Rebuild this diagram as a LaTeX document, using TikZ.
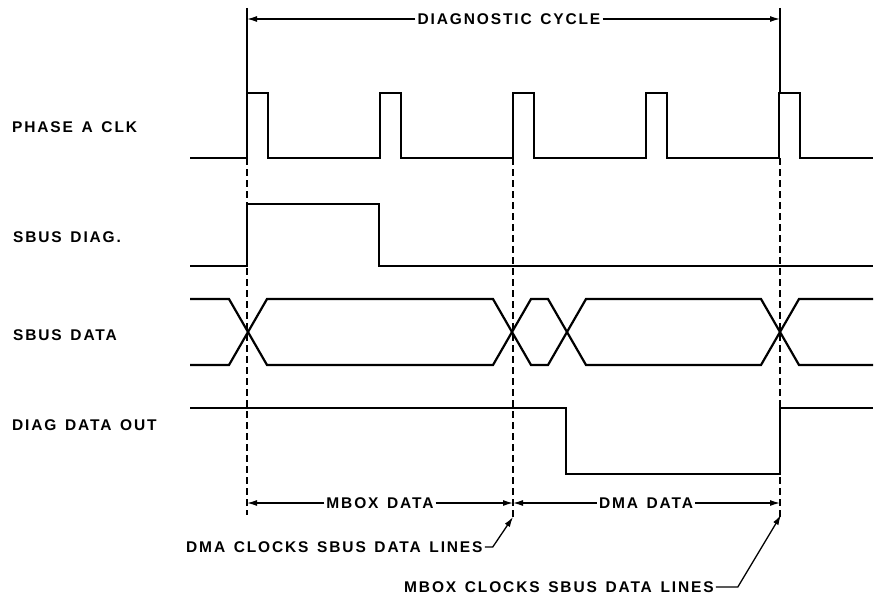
\documentclass[tikz,border=0pt]{standalone}
\usepackage{fontspec}
\setmainfont{Liberation Sans}[LetterSpace=12, WordSpace=1.4]
\usetikzlibrary{arrows.meta,positioning}

\begin{document}
\begin{tikzpicture}[x=1pt, y=-1pt, >={Latex[length=10pt,width=6pt]}]

  % ===== Styles =====
  \tikzset{
    sig/.style={line width=2.2pt, line join=miter},
    guide/.style={line width=1.1pt, dash pattern=on 7pt off 4pt},
    dim/.style={line width=1.3pt},
    lbl/.style={font=\fontsize{15.5}{18}\selectfont\bfseries, inner xsep=2pt, inner ysep=0pt, anchor=west},
    dimlbl/.style={font=\fontsize{15.5}{18}\selectfont\bfseries, inner xsep=2pt, inner ysep=0pt}
  }

  \useasboundingbox (0,0) rectangle (874,599);

  % ===== Signal names =====
  \node[lbl] (clk)  at (10,127) {PHASE A CLK};
  \node[lbl] (diag) at (11,237) {SBUS DIAG.};
  \node[lbl] (data) at (11,335) {SBUS DATA};
  \node[lbl] (out)  at (10,425) {DIAG DATA OUT};

  % ===== Cycle marks =====
  \coordinate (t1) at (247,0);
  \coordinate (t2) at (513,0);
  \coordinate (t3) at (780,0);

  % ===== Waveforms =====
  \draw[sig] (190,158) \foreach \x in {247,380,513,646,779} {
      -- (\x,158) -- (\x,93) -- (\x+21,93) -- (\x+21,158) } -- (873,158);
  \draw[sig] (190,266) -- (247,266) -- (247,204) -- (379,204) -- (379,266) -- (873,266);
  \draw[sig] (190,299) -- (229,299) -- (267,365) -- (493,365) -- (531,299) -- (548,299)
    -- (586,365) -- (761,365) -- (799,299) -- (873,299);
  \draw[sig] (190,365) -- (229,365) -- (267,299) -- (493,299) -- (531,365) -- (548,365)
    -- (586,299) -- (761,299) -- (799,365) -- (873,365);
  \draw[sig] (190,408) -- (566,408) -- (566,474) -- (780,474) -- (780,408) -- (873,408);

  % ===== Guide lines =====
  \draw[dim] (t1 |- 0,8) -- (t1 |- 0,93);
  \draw[dim] (t3 |- 0,8) -- (t3 |- 0,93);
  \draw[guide] (t1 |- 0,158) -- (t1 |- 0,515);
  \draw[guide] (t2 |- 0,158) -- (t2 |- 0,517);
  \draw[guide] (t3 |- 0,158) -- (t3 |- 0,517);

  % ===== Dimension lines =====
  \node[dimlbl] (cycle) at (509,19) {DIAGNOSTIC CYCLE};
  \draw[dim,->] (cycle.west) -- (t1 |- cycle);
  \draw[dim,->] (cycle.east) -- (t3 |- cycle);

  \node[dimlbl] (mbox) at (380,503) {MBOX DATA};
  \draw[dim,->] (mbox.west) -- (t1 |- mbox);
  \draw[dim,->] (mbox.east) -- (t2 |- mbox);

  \node[dimlbl] (dma) at (646,503) {DMA DATA};
  \draw[dim,->] (dma.west) -- (t2 |- dma);
  \draw[dim,->] (dma.east) -- (t3 |- dma);

  % ===== Notes =====
  \node[lbl] (dmaclk) at (184,547) {DMA CLOCKS SBUS DATA LINES};
  \draw[dim,->] (dmaclk.east) -- ++(8,0) -- (t2 |- 0,517);
  \node[lbl] (mboxclk) at (402,587) {MBOX CLOCKS SBUS DATA LINES};
  \draw[dim,->] (mboxclk.east) -- ++(22,0) -- ([xshift=1pt]t3 |- 0,515);

\end{tikzpicture}
\end{document}
